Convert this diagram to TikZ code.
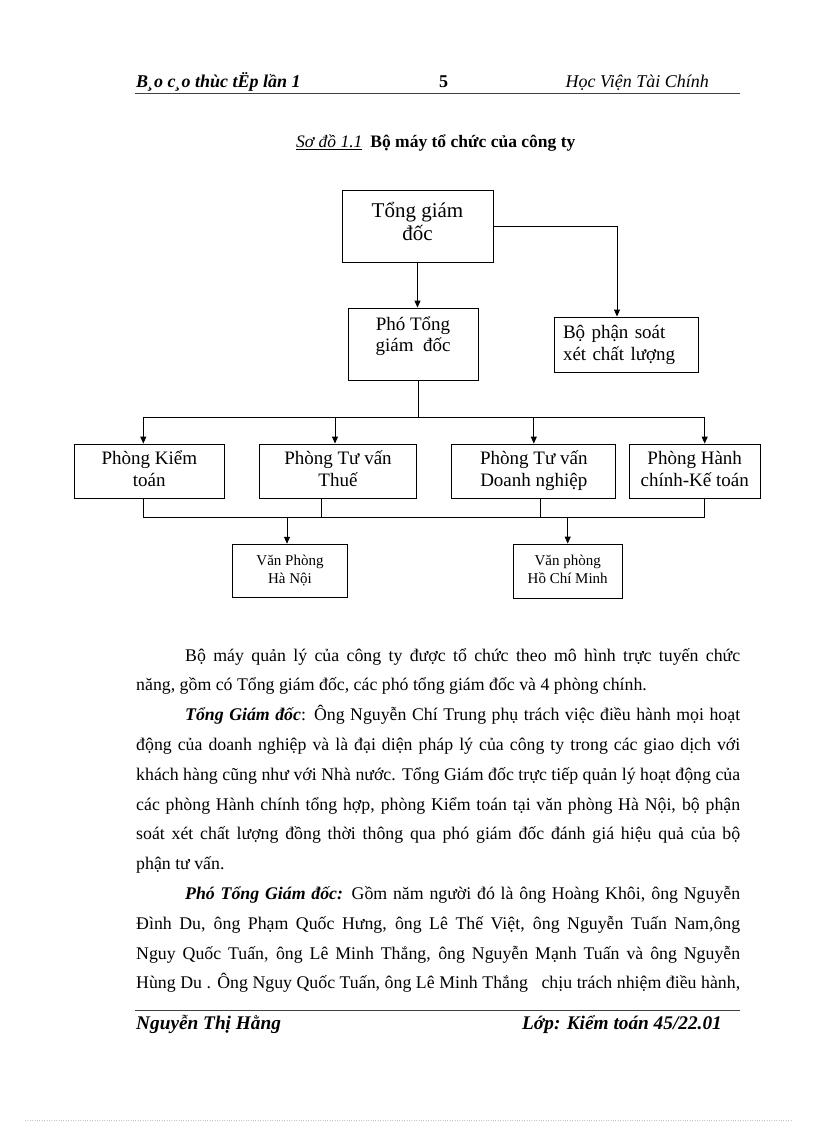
\documentclass[tikz,border=0pt]{standalone}
\usepackage{fontspec}
\setmainfont{Liberation Serif}
\usetikzlibrary{arrows.meta,positioning}

\begin{document}
\begin{tikzpicture}[x=1pt,y=-1pt,
  box/.style={draw, line width=0.9pt, inner sep=0pt, align=center, font=\fontsize{19}{22}\selectfont},
  office/.style={box, font=\fontsize{15}{18}\selectfont},
  arr/.style={line width=0.9pt, -{Triangle[length=7pt,width=6pt]}},
  link/.style={line width=0.9pt},
  body/.style={anchor=base west, inner sep=0pt, font=\fontsize{17.8}{20}\selectfont},
  rule/.style={line width=1pt, black!75}]
\useasboundingbox (0,0) rectangle (816,1123);

% header and footer
\node[body, font=\fontsize{18}{20}\selectfont\bfseries\itshape] (hdleft) at (136,88) {B¸o c¸o thùc tËp lần 1};
\node[body, font=\fontsize{18}{20}\selectfont\bfseries] (hdpage) at (439,88) {5};
\node[body, anchor=base east, font=\fontsize{18}{20}\selectfont\itshape] (hdright) at (709,88) {Học Viện Tài Chính};
\draw[rule] (135,94) -- (740,94);
\draw[rule] (135,1010) -- (740,1010);
\node[body, font=\fontsize{19.3}{22}\selectfont\bfseries\itshape] (ftleft) at (136,1029) {Nguyễn Thị Hằng};
\node[body, anchor=base east, font=\fontsize{19.3}{22}\selectfont\bfseries\itshape] (ftright) at (722,1029) {Lớp: Kiểm toán 45/22.01};
\draw[gray!45, dotted] (25,1120) -- (792,1120);

% caption
\node[body, font=\fontsize{17.5}{20}\selectfont] (caption) at (296,148) {\underline{\textit{Sơ đồ 1.1}}\hspace{8pt}\textbf{Bộ máy tổ chức của công ty}};

% boxes
\node[box, minimum width=151pt, minimum height=72pt] (tgd) at (417.5,226) {};
\node[font=\fontsize{21}{23}\selectfont, align=center] (tgdtext) at (417.5,221) {Tổng giám\\đốc};
\node[box, minimum width=130pt, minimum height=72pt] (pho) at (413,344) {};
\node[font=\fontsize{19}{21}\selectfont, align=center] (photext) at (413,336) {Phó Tổng\\giám~ đốc};
\node[box, text width=126pt, inner xsep=9pt, align=left, minimum height=55pt] (bp) at (626,344.5) {Bộ phận soát\\xét chất lượng};

\node[box, minimum width=150pt, minimum height=54pt] (pk) at (149.3,471) {Phòng Kiểm\\toán\vphantom{gệ}};
\node[box, minimum width=157pt, minimum height=54pt] (ptv) at (338,471) {Phòng Tư vấn\\Thuế\vphantom{gệ}};
\node[box, minimum width=164pt, minimum height=54pt] (pdn) at (533.8,471) {Phòng Tư vấn\\Doanh nghiệp};
\node[box, minimum width=131pt, minimum height=54pt] (phc) at (694.7,471) {Phòng Hành\vphantom{Kiểm}\\chính-Kế toán\vphantom{gệ}};

\node[office, minimum width=115pt, minimum height=53pt] (vhn) at (290,570.7) {Văn Phòng\\Hà Nội\vphantom{Hồg}};
\node[office, minimum width=109pt, minimum height=54pt] (vhcm) at (567.7,571) {Văn phòng\vphantom{P}\\Hồ Chí Minh\vphantom{ịg}};

% connectors
\coordinate (busa) at (418,417);
\coordinate (busb) at (430,517);
\draw[arr] (tgd.south) -- (tgd.south |- pho.north);
\draw[arr] (tgd.east) -| ([xshift=-9pt]bp.north);
\draw[link] (pho.south -| busa) -- (busa);
\draw[arr] (busa) -| ([xshift=-6pt]pk.north);
\draw[arr] (busa) -| ([xshift=-3pt]ptv.north);
\draw[arr] (busa) -| (pdn.north);
\draw[arr] (busa) -| ([xshift=10pt]phc.north);
\draw[link] ([xshift=-6pt]pk.south) |- (busb);
\draw[link] ([xshift=10pt]phc.south) |- (busb);
\draw[link] ([xshift=-17pt]ptv.south) -- ([xshift=-17pt]ptv.south |- busb);
\draw[link] ([xshift=7pt]pdn.south) -- ([xshift=7pt]pdn.south |- busb);
\draw[arr] ([xshift=-3pt]vhn.north |- busb) -- ([xshift=-3pt]vhn.north);
\draw[arr] (vhcm.north |- busb) -- (vhcm.north);

% text
\node[body] (la) at (185,661) {\makebox[555pt][s]{Bộ máy quản lý của công ty được tổ chức theo mô hình trực tuyến chức}};
\node[body] (lb) at (136,690.8) {năng, gồm có Tổng giám đốc, các phó tổng giám đốc và 4 phòng chính.};
\node[body] (lc) at (185,720.6) {\makebox[555pt][s]{\textbf{\textit{Tổng Giám đốc}}: Ông Nguyễn Chí Trung phụ trách việc điều hành mọi hoạt}};
\node[body] (ld) at (136,750.4) {\makebox[604pt][s]{động của doanh nghiệp và là đại diện pháp lý của công ty trong các giao dịch với}};
\node[body] (le) at (136,780.2) {\makebox[604pt][s]{khách hàng cũng như với Nhà nước. Tổng Giám đốc trực tiếp quản lý hoạt động của}};
\node[body] (lf) at (136,810) {\makebox[604pt][s]{các phòng Hành chính tổng hợp, phòng Kiểm toán tại văn phòng Hà Nội, bộ phận}};
\node[body] (lg) at (136,839.8) {\makebox[604pt][s]{soát xét chất lượng đồng thời thông qua phó giám đốc đánh giá hiệu quả của bộ}};
\node[body] (lh) at (136,869.6) {phận tư vấn.};
\node[body] (li) at (185,899.4) {\makebox[555pt][s]{\textbf{\textit{Phó Tổng Giám đốc:}} Gồm năm người đó là ông Hoàng Khôi, ông Nguyễn}};
\node[body] (lj) at (136,929.2) {\makebox[604pt][s]{Đình Du, ông Phạm Quốc Hưng, ông Lê Thế Việt, ông Nguyễn Tuấn Nam,ông}};
\node[body] (lk) at (136,959) {\makebox[604pt][s]{Nguy Quốc Tuấn, ông Lê Minh Thắng, ông Nguyễn Mạnh Tuấn và ông Nguyễn}};
\node[body] (ll) at (136,988.8) {\makebox[604pt][s]{Hùng Du . Ông Nguy Quốc Tuấn, ông Lê Minh Thắng~~ chịu trách nhiệm điều hành,}};
\end{tikzpicture}
\end{document}
